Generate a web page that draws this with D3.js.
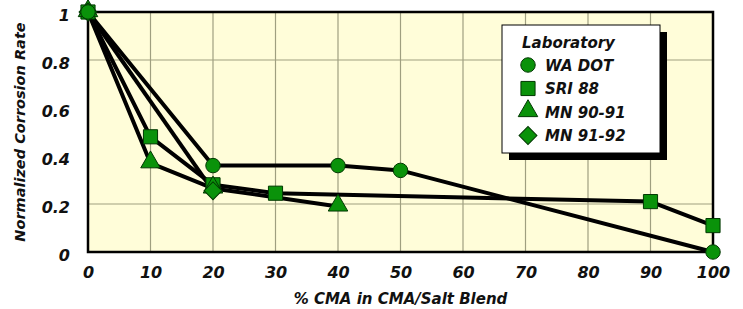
<!DOCTYPE html>
<html>
<head>
<meta charset="utf-8">
<script src="https://cdn.jsdelivr.net/npm/d3@7"></script>
<style>
  body { margin: 0; background: #fff; }
  text { font-family: "DejaVu Sans", Verdana, sans-serif; font-weight: bold; font-style: italic; fill: #111; }
</style>
</head>
<body>
<svg id="chart" width="743" height="309"></svg>
<script>
// data
const xTicks = [0, 10, 20, 30, 40, 50, 60, 70, 80, 90, 100];
const yTicks = [0, 0.2, 0.4, 0.6, 0.8, 1];
const yGrid = [0.2, 0.8];

const waDot = [[0, 1], [20, 0.36], [40, 0.36], [50, 0.34], [100, 0]];
const sri88 = [[0, 1], [10, 0.48], [20, 0.28], [30, 0.245], [90, 0.21], [100, 0.11]];
const mn9091 = [[0, 1], [10, 0.37], [20, 0.265], [40, 0.19]];
const mn9192 = [[0, 1], [20, 0.255]];

const series = [
  { name: 'SRI 88', shape: 'square', data: sri88 },
  { name: 'MN 90-91', shape: 'triangle', data: mn9091 },
  { name: 'MN 91-92', shape: 'diamond', data: mn9192 },
  { name: 'WA DOT', shape: 'circle', data: waDot }
];
const legendOrder = ['WA DOT', 'SRI 88', 'MN 90-91', 'MN 91-92'];

const svg = d3.select('#chart');
const margin = { top: 12, right: 30, bottom: 57, left: 88 };
const width = +svg.attr('width') - margin.left - margin.right;
const height = +svg.attr('height') - margin.top - margin.bottom;

const g = svg.append('g').attr('transform', `translate(${margin.left},${margin.top})`);

const x = d3.scaleLinear().domain([0, 100]).range([0, width]);
const y = d3.scaleLinear().domain([0, 1]).range([height, 0]);

const symbols = {
  circle: d3.symbol().type(d3.symbolCircle).size(165),
  square: d3.symbol().type(d3.symbolSquare).size(200),
  triangle: d3.symbol().type(d3.symbolTriangle).size(165),
  diamond: d3.symbol().type(d3.symbolSquare).size(160)
};
const markerFill = '#0a920a';
const markerStroke = '#023802';

function drawMarker(sel, shape) {
  sel.append('path')
    .attr('d', symbols[shape]())
    .attr('transform', shape === 'diamond' ? 'rotate(45)' : (shape === 'triangle' ? 'translate(0,-1)' : null))
    .attr('fill', markerFill)
    .attr('stroke', markerStroke)
    .attr('stroke-width', 1);
}

// plot background
g.append('rect')
  .attr('width', width)
  .attr('height', height)
  .attr('fill', '#fffdd9');

// grid
g.selectAll('.gx')
  .data(xTicks.filter(d => d > 0 && d < 100))
  .enter().append('line')
  .attr('x1', d => x(d)).attr('x2', d => x(d))
  .attr('y1', 0).attr('y2', height)
  .attr('stroke', '#9f9f80').attr('stroke-width', 1.2);

g.selectAll('.gy')
  .data(yGrid)
  .enter().append('line')
  .attr('x1', 0).attr('x2', width)
  .attr('y1', d => y(d)).attr('y2', d => y(d))
  .attr('stroke', '#9f9f80').attr('stroke-width', 1.2);

// frame
g.append('rect')
  .attr('width', width)
  .attr('height', height)
  .attr('fill', 'none')
  .attr('stroke', '#000')
  .attr('stroke-width', 2.5);

// axes (labels only)
const xAxis = g.append('g')
  .attr('transform', `translate(0,${height})`)
  .call(d3.axisBottom(x).tickValues(xTicks).tickSize(0).tickPadding(15));
const yAxis = g.append('g')
  .call(d3.axisLeft(y).tickValues(yTicks).tickSize(0).tickPadding(18)
    .tickFormat(d => d === 0 || d === 1 ? d3.format('d')(d) : d3.format('.1f')(d)));
[xAxis, yAxis].forEach(a => {
  a.select('.domain').remove();
  a.selectAll('text')
    .attr('font-family', '"DejaVu Sans", Verdana, sans-serif')
    .attr('font-size', 16)
    .attr('fill', '#111');
});
yAxis.selectAll('text').attr('dy', '0.5em');

// lines
const line = d3.line().x(d => x(d[0])).y(d => y(d[1]));
g.selectAll('.series-line')
  .data(series)
  .enter().append('path')
  .attr('d', d => line(d.data))
  .attr('fill', 'none')
  .attr('stroke', '#000')
  .attr('stroke-width', 4)
  .attr('stroke-linejoin', 'round');

// markers
series.forEach(s => {
  g.selectAll(null)
    .data(s.data)
    .enter().append('g')
    .attr('transform', d => `translate(${x(d[0])},${y(d[1])})`)
    .each(function () { drawMarker(d3.select(this), s.shape); });
});

// axis titles
svg.append('text')
  .attr('x', margin.left + width / 2)
  .attr('y', 304)
  .attr('text-anchor', 'middle')
  .attr('font-size', 15)
  .text('% CMA in CMA/Salt Blend');

svg.append('text')
  .attr('transform', `translate(25,${margin.top + height / 2}) rotate(-90)`)
  .attr('text-anchor', 'middle')
  .attr('font-size', 14.5)
  .text('Normalized Corrosion Rate');

// legend
const lg = svg.append('g').attr('transform', 'translate(502,25)');
lg.append('rect').attr('x', 7).attr('y', 7).attr('width', 158).attr('height', 128).attr('fill', '#000');
lg.append('rect').attr('width', 158).attr('height', 128).attr('fill', '#fff').attr('stroke', '#000').attr('stroke-width', 1);
lg.append('text').attr('x', 20).attr('y', 23).attr('font-size', 15).text('Laboratory');
legendOrder.forEach((name, i) => {
  const s = series.find(d => d.name === name);
  const row = lg.append('g').attr('transform', `translate(26,${40 + i * 23.5})`);
  drawMarker(row, s.shape);
  row.append('text').attr('x', 17).attr('y', 5.5).attr('font-size', 15).text(name);
});
</script>
</body>
</html>
